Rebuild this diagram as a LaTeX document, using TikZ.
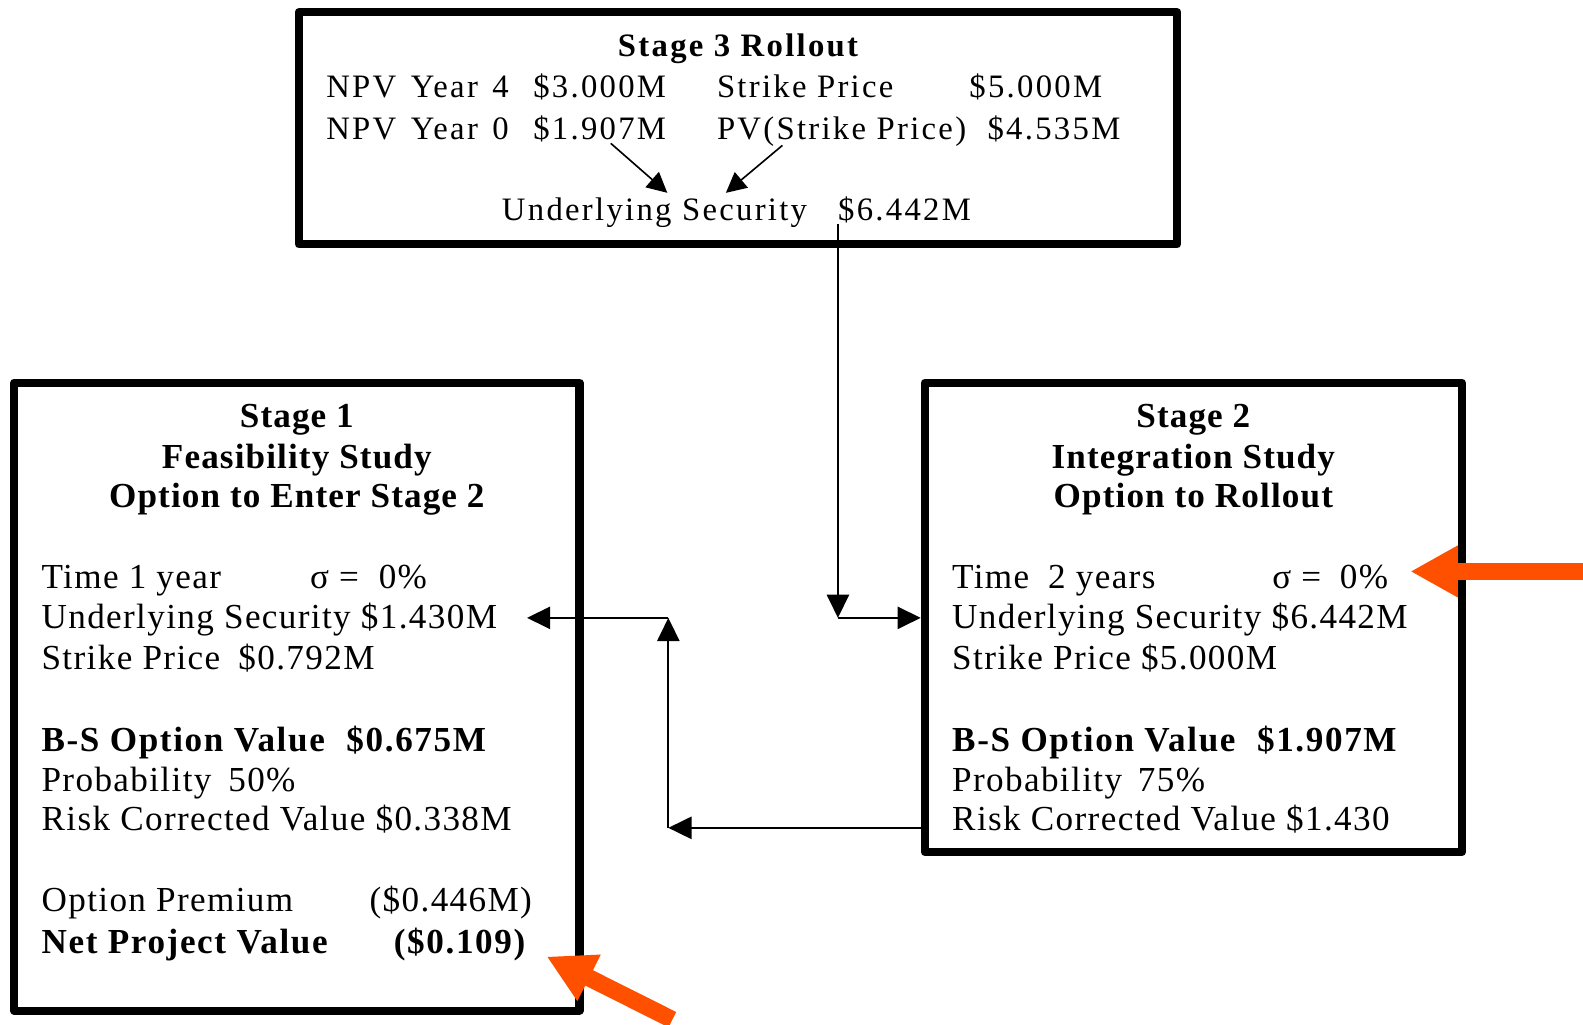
\documentclass[tikz,border=0pt]{standalone}
\usepackage{fontspec}
\setmainfont{Liberation Serif}
\newfontfamily\stf[LetterSpace=3.9]{Liberation Serif}
\newfontfamily\stbf[LetterSpace=4.6]{Liberation Serif}
\newfontfamily\sttf[LetterSpace=3.2]{Liberation Serif}
\newfontfamily\tpf[LetterSpace=7]{Liberation Serif}
\usetikzlibrary{arrows.meta}
\definecolor{hl}{RGB}{255,80,0}
\begin{document}
\begin{tikzpicture}[x=1pt,y=-1pt,
  box/.style={draw, line width=8pt, line join=round, inner sep=0pt},
  st/.style={inner sep=0pt, anchor=base west, font=\stf\fontsize{34.8}{40}\selectfont},
  stb/.style={st, font=\stbf\bfseries\fontsize{34.8}{40}\selectfont},
  stc/.style={st, anchor=base, font=\sttf\bfseries\fontsize{34.8}{40}\selectfont},
  tp/.style={inner sep=0pt, anchor=base west, font=\tpf\fontsize{32.4}{38}\selectfont},
  tpc/.style={tp, anchor=base, font=\tpf\bfseries\fontsize{32.4}{38}\selectfont},
  conn/.style={line width=2pt, -{Triangle[length=23pt,width=22pt]}},
  sconn/.style={line width=1.6pt, -{Triangle[length=20pt,width=20pt]}},
  hlarrow/.style={hl, line width=17pt, -{Triangle[length=47pt,width=48pt]}}
]
\useasboundingbox (0,0) rectangle (1568,1015);

% boxes
\node[box, minimum width=870pt, minimum height=230pt] (s3) at (731,127) {};
\node[box, minimum width=560pt, minimum height=622pt] (s1) at (294,690) {};
\node[box, minimum width=532pt, minimum height=465pt] (s2) at (1182,611.5) {};

% Stage 3 text
\node[tpc] (t3title) at (731,56) {Stage 3 Rollout};
\node[tp] (t3a) at (323,97) {NPV\hspace{4pt} Year\hspace{4pt} 4};
\node[tp] (t3b) at (528,97) {\$3.000M};
\node[tp] (t3c) at (710,97) {Strike Price};
\node[tp] (t3d) at (960,97) {\$5.000M};
\node[tp] (t3e) at (323,138) {NPV\hspace{4pt} Year\hspace{4pt} 0};
\node[tp] (t3f) at (528,138) {\$1.907M};
\node[tp] (t3g) at (710,138) {PV(Strike Price)};
\node[tp] (t3h) at (978,138) {\$4.535M};
\node[tp] (t3i) at (497,218) {Underlying Security};
\node[tp] (t3j) at (830,218) {\$6.442M};

% Stage 1 text
\node[stc] (t1a) at (294,423) {Stage 1};
\node[stc] (t1b) at (294,464) {Feasibility Study};
\node[stc] (t1c) at (294,503) {Option to Enter Stage 2};
\node[st] (t1d) at (41,583) {Time 1 year};
\node[st] (t1e) at (307,583) {σ =};
\node[st] (t1f) at (375,583) {0\%};
\node[st] (t1g) at (41,623) {Underlying Security \$1.430M};
\node[st] (t1h) at (41,663) {Strike Price};
\node[st] (t1i) at (236,663) {\$0.792M};
\node[stb] (t1j) at (41,744) {B-S Option Value};
\node[stb] (t1k) at (343,744) {\$0.675M};
\node[st] (t1l) at (41,784) {Probability};
\node[st] (t1m) at (226,784) {50\%};
\node[st] (t1n) at (41,823) {Risk Corrected Value \$0.338M};
\node[st] (t1o) at (41,903) {Option Premium};
\node[st] (t1p) at (366,903) {(\$0.446M)};
\node[stb] (t1q) at (41,944) {Net Project Value};
\node[stb] (t1r) at (390,944) {(\$0.109)};

% Stage 2 text
\node[stc] (t2a) at (1182,423) {Stage 2};
\node[stc] (t2b) at (1182,464) {Integration Study};
\node[stc] (t2c) at (1182,503) {Option to Rollout};
\node[st] (t2d) at (943,583) {Time};
\node[st] (t2d2) at (1038,583) {2 years};
\node[st] (t2e) at (1260,583) {σ =};
\node[st] (t2f) at (1327,583) {0\%};
\node[st] (t2g) at (943,623) {Underlying Security \$6.442M};
\node[st] (t2h) at (943,663) {Strike Price \$5.000M};
\node[stb] (t2j) at (943,744) {B-S Option Value};
\node[stb] (t2k) at (1245,744) {\$1.907M};
\node[st] (t2l) at (943,784) {Probability};
\node[st] (t2m) at (1127,784) {75\%};
\node[st] (t2n) at (943,823) {Risk Corrected Value \$1.430};

% connector coordinates
\coordinate (a1s) at (605,142);
\coordinate (a1e) at (661,191);
\coordinate (a2s) at (775,144);
\coordinate (a2e) at (719,191);
\coordinate (dtop) at (830,222);
\coordinate (dbot) at (830,612);
\coordinate (s2in) at (912,612);
\coordinate (s2out) at (914,820);
\coordinate (bl) at (662,820);
\coordinate (tl) at (662,612);
\coordinate (s1in) at (522,612);
\coordinate (o1s) at (1580,566);
\coordinate (o1e) at (1397,566);
\coordinate (o2s) at (666,1010);
\coordinate (o2e) at (541.5,947.5);

% connectors
\draw[sconn] (a1s) -- (a1e);
\draw[sconn] (a2s) -- (a2e);
\draw[conn] (dtop) -- (dbot);
\draw[conn] (dbot) -- (s2in);
\draw[conn] (s2out) -- (bl);
\draw[conn] (bl) -- (tl);
\draw[conn] (tl) -- (s1in);

% highlight arrows
\draw[hlarrow] (o1s) -- (o1e);
\draw[hlarrow] (o2s) -- (o2e);
\end{tikzpicture}
\end{document}
